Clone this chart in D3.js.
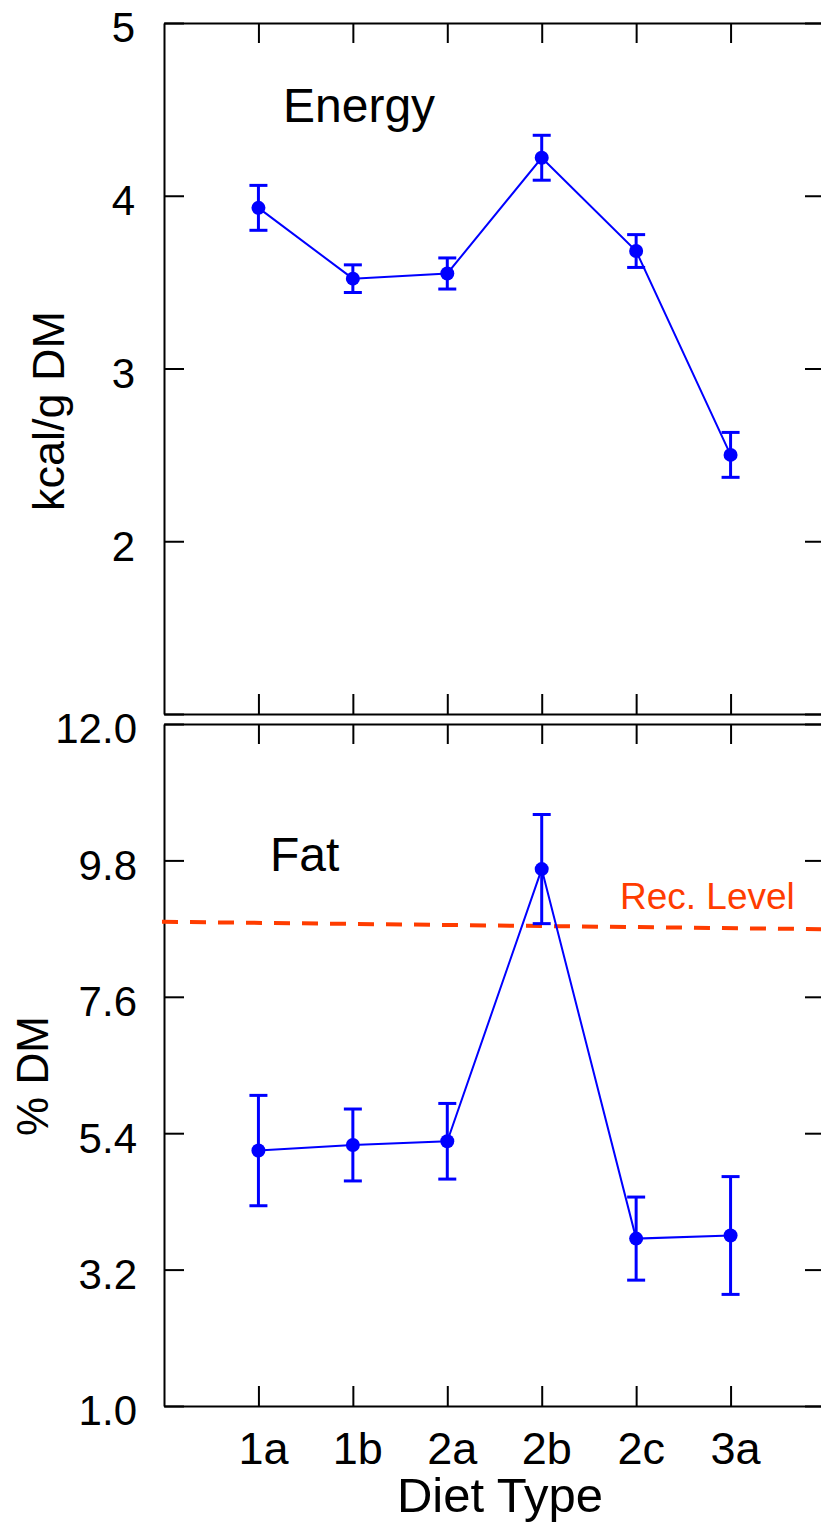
<!DOCTYPE html>
<html>
<head>
<meta charset="utf-8">
<script src="https://d3js.org/d3.v7.min.js"></script>
<style>
  body { margin: 0; background: #fff; }
  svg { display: block; font-family: "Liberation Sans", Arial, sans-serif; }
  .axis path, .axis line { stroke: #000; stroke-width: 2; }
</style>
</head>
<body>
<script>
// diet types along x
var diets = ["1a", "1b", "2a", "2b", "2c", "3a"]

// energy, kcal/g DM (mean, +/- error)
var energyMean = [3.93, 3.52, 3.55, 4.22, 3.68, 2.50]
var energyErr = [0.13, 0.08, 0.09, 0.13, 0.095, 0.13]

// fat, % DM (mean, +/- error)
var fatMean = [5.12, 5.21, 5.27, 9.66, 3.70, 3.75]
var fatErr = [0.89, 0.58, 0.61, 0.88, 0.67, 0.95]

// recommended fat level, at left and right edge
var recLevel = [8.81, 8.69]

var energyTicks = [1, 2, 3, 4, 5]
var energyLabels = [2, 3, 4, 5]
var fatTicks = [1.0, 3.2, 5.4, 7.6, 9.8, 12.0]

var svgWidth = 821
var svgHeight = 1526
var blue = "#0000ff"
var red = "#ff3c00"

var svg = d3.select("body")
    .append("svg")
    .attr("width", svgWidth)
    .attr("height", svgHeight)

// shared x: categories sit at 1..6 on a 0..7 axis
var x = d3.scaleLinear().domain([0, 7]).range([164, 825])
var yE = d3.scaleLinear().domain([1, 5]).range([714, 23])
var yF = d3.scaleLinear().domain([1, 12]).range([1406, 724])

var energy = diets.map((d, i) => ({diet: d, i: i + 1, v: energyMean[i], e: energyErr[i]}))
var fat = diets.map((d, i) => ({diet: d, i: i + 1, v: fatMean[i], e: fatErr[i]}))
var catTicks = diets.map((d, i) => i + 1)

function frame(y, ticks, labels, pad, showX) {
    // left axis with labels
    var left = svg.append("g")
        .attr("class", "axis")
        .attr("transform", "translate(" + x(0) + ",0)")
        .call(d3.axisLeft(y).tickValues(ticks).tickSizeInner(-20).tickSizeOuter(0).tickPadding(pad)
            .tickFormat(d => labels.indexOf(d) >= 0 ? (showX ? d3.format(".1f")(d) : d) : ""))
    left.selectAll("text")
        .attr("fill", "#000")
        .attr("dy", "0.45em")
        .style("font-size", "42px")

    svg.append("g")
        .attr("class", "axis")
        .attr("transform", "translate(" + x(7) + ",0)")
        .call(d3.axisRight(y).tickValues(ticks).tickSizeInner(-20).tickSizeOuter(0).tickFormat(""))

    svg.append("g")
        .attr("class", "axis")
        .attr("transform", "translate(0," + y.range()[1] + ")")
        .call(d3.axisTop(x).tickValues(catTicks).tickSizeInner(-20).tickSizeOuter(0).tickFormat(""))

    var bottom = svg.append("g")
        .attr("class", "axis")
        .attr("transform", "translate(0," + y.range()[0] + ")")
        .call(d3.axisBottom(x).tickValues(catTicks).tickSizeInner(-20).tickSizeOuter(0).tickPadding(26)
            .tickFormat(d => showX ? diets[d - 1] : ""))
    bottom.selectAll("text")
        .attr("fill", "#000")
        .attr("dx", "0.1em")
        .style("font-size", "45px")
}

function series(data, y) {
    var g = svg.append("g")
    g.append("path")
        .datum(data)
        .attr("fill", "none")
        .attr("stroke", blue)
        .attr("stroke-width", 2)
        .attr("d", d3.line().x(d => x(d.i)).y(d => y(d.v)))

    var bars = g.selectAll(".err")
        .data(data)
        .enter().append("g")
        .attr("class", "err")
        .attr("stroke", blue)
        .attr("stroke-width", 3)
    bars.append("line")
        .attr("x1", d => x(d.i)).attr("x2", d => x(d.i))
        .attr("y1", d => y(d.v - d.e)).attr("y2", d => y(d.v + d.e))
    bars.append("line")
        .attr("x1", d => x(d.i) - 9).attr("x2", d => x(d.i) + 9)
        .attr("y1", d => y(d.v + d.e)).attr("y2", d => y(d.v + d.e))
    bars.append("line")
        .attr("x1", d => x(d.i) - 9).attr("x2", d => x(d.i) + 9)
        .attr("y1", d => y(d.v - d.e)).attr("y2", d => y(d.v - d.e))

    g.selectAll(".dot")
        .data(data)
        .enter().append("circle")
        .attr("class", "dot")
        .attr("cx", d => x(d.i))
        .attr("cy", d => y(d.v))
        .attr("r", 7)
        .attr("fill", blue)
}

// top panel: energy
frame(yE, energyTicks, energyLabels, 29, false)
series(energy, yE)

svg.append("text")
    .attr("x", 283)
    .attr("y", 122)
    .style("font-size", "48px")
    .text("Energy")

svg.append("text")
    .attr("transform", "translate(64,411) rotate(-90)")
    .attr("text-anchor", "middle")
    .style("font-size", "45px")
    .text("kcal/g DM")

// bottom panel: fat
frame(yF, fatTicks, fatTicks, 27, true)

svg.append("line")
    .attr("x1", x(0) - 2)
    .attr("x2", x(7))
    .attr("y1", yF(recLevel[0]))
    .attr("y2", yF(recLevel[1]))
    .attr("stroke", red)
    .attr("stroke-width", 4)
    .attr("stroke-dasharray", "16,12")

series(fat, yF)

svg.append("text")
    .attr("x", 620)
    .attr("y", 909)
    .attr("fill", red)
    .style("font-size", "37px")
    .text("Rec. Level")

svg.append("text")
    .attr("x", 270)
    .attr("y", 871)
    .style("font-size", "48px")
    .text("Fat")

svg.append("text")
    .attr("transform", "translate(48,1076) rotate(-90)")
    .attr("text-anchor", "middle")
    .style("font-size", "44px")
    .text("% DM")

svg.append("text")
    .attr("x", 500)
    .attr("y", 1512)
    .attr("text-anchor", "middle")
    .style("font-size", "49px")
    .text("Diet Type")
</script>
</body>
</html>
